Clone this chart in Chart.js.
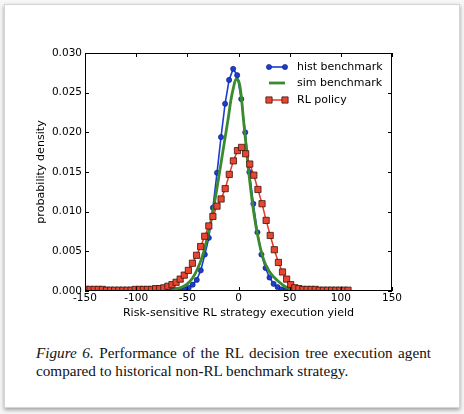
<!DOCTYPE html>
<html><head><meta charset="utf-8">
<script src="https://cdn.jsdelivr.net/npm/chart.js@4.4.1/dist/chart.umd.min.js"></script>
<style>
html,body{margin:0;padding:0;background:#f6f6f6;width:464px;height:414px;overflow:hidden;}
#card{position:absolute;left:4px;top:4px;width:454px;height:402px;background:#fff;border:1px solid #d4d4d4;box-shadow:0 2px 4px rgba(0,0,0,0.35);}
#chart{position:absolute;left:0;top:0;}
.cap{position:absolute;left:36px;width:395px;font-family:"Liberation Serif","Times New Roman",serif;font-size:15.2px;line-height:18px;color:#111;white-space:nowrap;}
#cap1{top:344px;text-align:justify;text-align-last:justify;white-space:normal;}
#cap2{top:362px;}
</style></head>
<body>
<div id="card"></div>
<canvas id="chart" width="464" height="330"></canvas>
<div class="cap" id="cap1"><i>Figure 6.</i> Performance of the RL decision tree execution agent</div>
<div class="cap" id="cap2">compared to historical non-RL benchmark strategy.</div>
<script>
const seriesNames = ["hist benchmark", "sim benchmark", "RL policy"];
const xTickValues = [-150, -100, -50, 0, 50, 100, 150];
const yTickValues = [0, 0.005, 0.010, 0.015, 0.020, 0.025, 0.030];

const histX = [-72.4,-68.4,-64.5,-60.5,-56.6,-52.6,-48.7,-44.8,-40.8,-36.9,-32.9,-29.0,-25.0,-21.0,-17.1,-13.1,-9.2,-5.2,-1.3,2.7,6.6,10.6,14.5,18.5,22.4,26.4,30.3,34.3,38.2,42.2,46.1,50.1,54.0,58.0];
const histY = [0.0000,0.0000,0.0001,0.0001,0.0001,0.0002,0.0004,0.0008,0.0014,0.0026,0.0046,0.0067,0.0105,0.0149,0.0194,0.0236,0.0266,0.0280,0.0272,0.0242,0.0200,0.0150,0.0110,0.0074,0.0046,0.0029,0.0017,0.0009,0.0005,0.0002,0.0001,0.0001,0.0000,0.0000];

const simX = [-75,-70,-65,-60,-55,-50,-45,-40,-35,-30,-25,-20,-15,-10,-7.5,-5,-2.5,0,2.5,5,7.5,10,15,20,25,30,35,40,45,50,55,60];
const simY = [0.0000,0.0001,0.0001,0.0003,0.0005,0.0009,0.0016,0.0028,0.0045,0.0070,0.0100,0.0138,0.0178,0.0218,0.0240,0.0256,0.0267,0.0265,0.0248,0.0214,0.0182,0.0150,0.0098,0.0062,0.0038,0.0025,0.0017,0.0011,0.0006,0.0003,0.0001,0.0000];

const rlX = [-149,-145,-141,-137,-133,-129,-125,-121,-117,-113,-109,-105,-101,
  -97,-93,-89,-85,-81,-77,-73,-69,-65,-61,-57,-53,-49,-45,-41,-37,-33,-29,-25,-21,-17,-13,-9,-5,-1,
  3,7,11,15,19,23,27,31,35,39,43,47,51,55,59,63,67,71,75,79,83,87,91,95,99,103,107];
const rlY = [0.0002,0.0002,0.0002,0.0002,0.0002,0.0001,0.0001,0.0001,0.0001,0.0001,0.0001,0.0001,0.0002,
  0.0002,0.0002,0.0002,0.0002,0.0003,0.0003,0.0004,0.0006,0.0008,0.0011,0.0015,0.0020,0.0026,0.0035,0.0045,0.0056,0.0069,0.0082,0.0094,0.0107,0.0116,0.0129,0.0147,0.0164,0.0177,
  0.0181,0.0173,0.0160,0.0146,0.0128,0.0110,0.0089,0.0070,0.0052,0.0036,0.0024,0.0015,0.0008,0.0004,0.0003,0.0002,0.0002,0.0002,0.0002,0.0001,0.0001,0.0001,0.0001,0.0001,0.0001,0.0001,0.0001];

const pts = (xs, ys) => xs.map((x, i) => ({x: x, y: ys[i]}));
const FONT = '"DejaVu Sans", Verdana, sans-serif';

const framePlugin = {
  id: 'frame',
  afterDatasetsDraw(chart) {
    const {ctx, chartArea: a, scales: {x, y}} = chart;
    ctx.save();
    ctx.strokeStyle = '#000';
    ctx.lineWidth = 1;
    ctx.beginPath();
    x.ticks.forEach(t => {
      const px = Math.round(x.getPixelForValue(t.value)) + 0.5;
      ctx.moveTo(px, a.bottom); ctx.lineTo(px, a.bottom - 4);
      ctx.moveTo(px, a.top); ctx.lineTo(px, a.top + 4);
    });
    y.ticks.forEach(t => {
      const py = Math.round(y.getPixelForValue(t.value)) + 0.5;
      ctx.moveTo(a.left, py); ctx.lineTo(a.left + 4, py);
      ctx.moveTo(a.right, py); ctx.lineTo(a.right - 4, py);
    });
    ctx.stroke();
    ctx.strokeRect(Math.round(a.left) + 0.5, Math.round(a.top) + 0.5, Math.round(a.right - a.left) - 1, Math.round(a.bottom - a.top) - 1);
    ctx.restore();
  }
};

const legendPlugin = {
  id: 'mplLegend',
  afterDraw(chart) {
    const {ctx, chartArea: a} = chart;
    const x0 = a.left + 184, x1 = a.left + 200, tx = a.left + 212;
    const rows = [a.top + 14, a.top + 30, a.top + 47];
    ctx.save();
    chart.data.datasets.forEach((ds, i) => {
      const yy = rows[i];
      ctx.strokeStyle = ds.borderColor;
      ctx.lineWidth = ds.borderWidth;
      ctx.beginPath(); ctx.moveTo(x0, yy); ctx.lineTo(x1, yy); ctx.stroke();
      if (ds.pointRadius > 0) {
        ctx.fillStyle = ds.pointBackgroundColor;
        ctx.strokeStyle = ds.pointBorderColor;
        ctx.lineWidth = ds.pointBorderWidth;
        const o = {pointStyle: ds.pointStyle, radius: ds.pointRadius, borderWidth: ds.pointBorderWidth, rotation: 0};
        Chart.helpers.drawPoint(ctx, o, x0, yy);
        Chart.helpers.drawPoint(ctx, o, x1, yy);
      }
      ctx.fillStyle = '#000';
      ctx.font = '11px ' + FONT;
      ctx.textBaseline = 'middle';
      ctx.textAlign = 'left';
      ctx.fillText(ds.label, tx, yy);
    });
    ctx.restore();
  }
};

new Chart(document.getElementById('chart'), {
  type: 'line',
  data: {
    datasets: [
      {label: seriesNames[0], data: pts(histX, histY), borderColor: '#1b3dd0', borderWidth: 1.6,
       pointStyle: 'circle', pointRadius: 2.6, pointBackgroundColor: '#1b3dd0', pointBorderColor: '#0b1a6e', pointBorderWidth: 0.6,
       tension: 0, order: 2},
      {label: seriesNames[1], data: pts(simX, simY), borderColor: '#3a8a2e', borderWidth: 2.8,
       pointRadius: 0, cubicInterpolationMode: 'monotone', order: 1},
      {label: seriesNames[2], data: pts(rlX, rlY), borderColor: '#e03a2a', borderWidth: 1.5,
       pointStyle: 'rect', pointRadius: 4.4, pointBackgroundColor: '#e8462f', pointBorderColor: '#3a1510', pointBorderWidth: 0.8,
       tension: 0, order: 0}
    ]
  },
  options: {
    responsive: false,
    animation: false,
    devicePixelRatio: 1,
    layout: {padding: {left: 0, right: 72, top: 53, bottom: 0}},
    plugins: {legend: {display: false}, tooltip: {enabled: false}},
    scales: {
      x: {
        type: 'linear', min: -150, max: 150,
        afterFit: s => { s.height = 39; },
        afterBuildTicks: s => { s.ticks = xTickValues.map(v => ({value: v})); },
        grid: {display: false, drawTicks: false},
        border: {display: false},
        ticks: {font: {family: FONT, size: 10.5}, color: '#000', padding: 1, maxRotation: 0, autoSkip: false},
        title: {display: true, text: 'Risk-sensitive RL strategy execution yield', font: {family: FONT, size: 11.1}, color: '#000', padding: {top: 0, bottom: 10.3}}
      },
      y: {
        type: 'linear', min: 0, max: 0.030,
        afterFit: s => { s.width = 85; },
        afterBuildTicks: s => { s.ticks = yTickValues.map(v => ({value: v})); },
        grid: {display: false, drawTicks: false},
        border: {display: false},
        ticks: {font: {family: FONT, size: 10.5}, color: '#000', padding: 3, callback: v => v.toFixed(3)},
        title: {display: true, text: 'probability density', font: {family: FONT, size: 11.1}, color: '#000', padding: {top: 34.5, bottom: 0}}
      }
    }
  },
  plugins: [framePlugin, legendPlugin]
});
</script>
</body></html>
